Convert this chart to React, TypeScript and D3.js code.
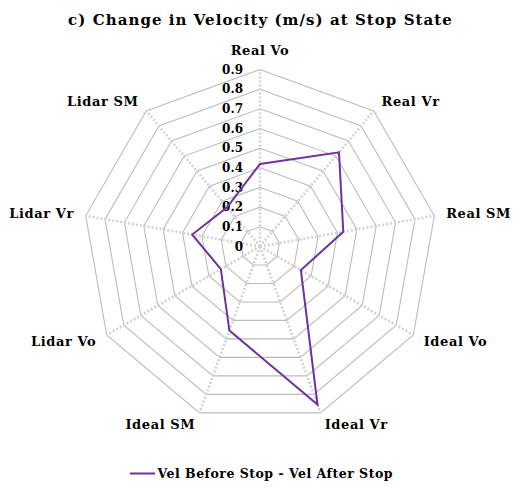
import React from "react";
import * as d3 from "d3";

// Categories around the radar, clockwise from the top
const categories = [
  "Real Vo",
  "Real Vr",
  "Real SM",
  "Ideal Vo",
  "Ideal Vr",
  "Ideal SM",
  "Lidar Vo",
  "Lidar Vr",
  "Lidar SM",
];

// Change in velocity (m/s): before stop minus after stop
const velDelta = [0.42, 0.625, 0.43, 0.24, 0.855, 0.455, 0.23, 0.35, 0.26];

// Radial tick values
const ticks = [0, 0.1, 0.2, 0.3, 0.4, 0.5, 0.6, 0.7, 0.8, 0.9];

const seriesName = "Vel Before Stop - Vel After Stop";
const title = "c) Change in Velocity (m/s) at Stop State";

const W = 520;
const H = 492;
const cx = 260;
const cy = 246.5;
const R = 177;
const FONT = "'DejaVu Serif', serif";
const LINE = "#7030a0";

export default function App() {
  const r = d3.scaleLinear().domain([0, 0.9]).range([0, R]);
  const angle = d3
    .scaleLinear()
    .domain([0, categories.length])
    .range([0, 2 * Math.PI]);

  const ring = (v: number) =>
    d3
      .lineRadial<string>()
      .angle((_, i) => angle(i))
      .radius(() => r(v))
      .curve(d3.curveLinearClosed)(categories) as string;

  const series = d3
    .lineRadial<number>()
    .angle((_, i) => angle(i))
    .radius((d) => r(d))
    .curve(d3.curveLinearClosed)(velDelta) as string;

  return (
    <svg
      width={W}
      height={H}
      style={{ position: "absolute", left: 0, top: 0, background: "#fff" }}
      fontFamily={FONT}
      fontWeight="bold"
    >
      <text
        x={W / 2 + 0.5}
        y={20}
        textAnchor="middle"
        dominantBaseline="central"
        fontSize={15}
        letterSpacing={1.05}
      >
        {title}
      </text>

      <g transform={`translate(${cx},${cy})`}>
        {/* concentric grid rings */}
        {ticks
          .filter((t) => t > 0)
          .map((t) => (
            <path key={t} d={ring(t)} fill="none" stroke="#bcbcbc" strokeWidth={1.1} />
          ))}

        {/* spokes */}
        {categories.map((c, i) => {
          const a = angle(i);
          return (
            <line
              key={c}
              x1={0}
              y1={0}
              x2={R * Math.sin(a)}
              y2={-R * Math.cos(a)}
              stroke="#d2d2d2"
              strokeWidth={2.6}
              strokeDasharray="2,2"
            />
          );
        })}

        {/* tick labels */}
        {ticks.map((t) => (
          <text
            key={t}
            x={-17}
            y={-r(t)}
            textAnchor="end"
            dominantBaseline="central"
            fontSize={12}
          >
            {String(t)}
          </text>
        ))}

        {/* category labels */}
        {categories.map((c, i) => {
          const a = angle(i);
          const s = Math.sin(a);
          const top = Math.abs(s) < 0.01;
          const pad = top ? 19.5 : 12;
          const x = (R + pad) * s;
          const y = -(R + pad) * Math.cos(a);
          const anchor = top ? "middle" : s > 0 ? "start" : "end";
          return (
            <text
              key={c}
              x={x}
              y={y}
              textAnchor={anchor}
              dominantBaseline="central"
              fontSize={13}
              letterSpacing={0.6}
            >
              {c}
            </text>
          );
        })}

        {/* data series */}
        <path d={series} fill="none" stroke={LINE} strokeWidth={2} strokeLinejoin="miter" />
      </g>

      {/* legend */}
      <line x1={130} x2={155} y1={473.5} y2={473.5} stroke={LINE} strokeWidth={2} />
      <text
        x={157.5}
        y={473.5}
        dominantBaseline="central"
        fontSize={12.5}
        letterSpacing={0.5}
      >
        {seriesName}
      </text>
    </svg>
  );
}
